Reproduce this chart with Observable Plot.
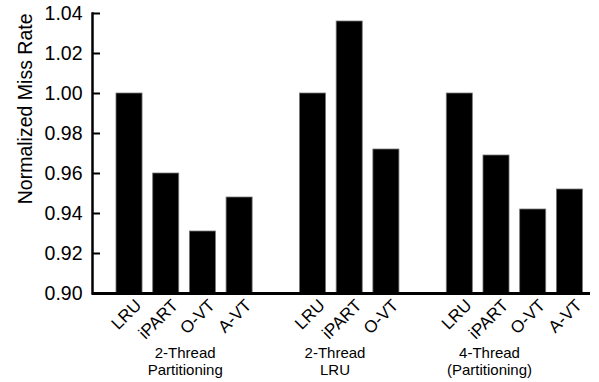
<!DOCTYPE html>
<html>
<head>
<meta charset="utf-8">
<script src="https://cdn.jsdelivr.net/npm/d3@7"></script>
<script src="https://cdn.jsdelivr.net/npm/@observablehq/plot@0.6"></script>
<style>
  html, body { margin: 0; padding: 0; background: #fff; }
  svg { display: block; }
</style>
</head>
<body>
<div id="chart"></div>
<script>
// ---- data ----
const groupNames = ["2-Thread\nPartitioning", "2-Thread\nLRU", "4-Thread\n(Partitioning)"];
const policiesG1 = ["LRU", "iPART", "O-VT", "A-VT"];
const valuesG1   = [1.000, 0.960, 0.931, 0.948];
const policiesG2 = ["LRU", "iPART", "O-VT"];
const valuesG2   = [1.000, 1.036, 0.972];
const policiesG3 = ["LRU", "iPART", "O-VT", "A-VT"];
const valuesG3   = [1.000, 0.969, 0.942, 0.952];
const yTicks = [0.90, 0.92, 0.94, 0.96, 0.98, 1.00, 1.02, 1.04];
const yLabel = "Normalized Miss Rate";

// ---- build slots (groups separated by one empty slot) ----
const groups = [
  {name: groupNames[0], policies: policiesG1, values: valuesG1},
  {name: groupNames[1], policies: policiesG2, values: valuesG2},
  {name: groupNames[2], policies: policiesG3, values: valuesG3}
];
const rows = [];
const domain = [];
const labelOf = new Map();
groups.forEach((g, gi) => {
  if (gi > 0) { const k = "gap" + gi; domain.push(k); labelOf.set(k, ""); }
  g.policies.forEach((p, i) => {
    const k = "g" + gi + "-" + p;
    domain.push(k); labelOf.set(k, p);
    rows.push({key: k, policy: p, value: g.values[i], group: g.name});
  });
});

const font = "'Liberation Sans', Arial, Helvetica, sans-serif";

// group label: anchored on a slot, shifted horizontally
function groupLabel(key, text, dx) {
  return Plot.text([{key, text}], {x: "key", y: () => yTicks[0], text: "text", dx, dy: 52,
    fontSize: 15, lineHeight: 1.15, lineAnchor: "top", fill: "#000"});
}

const chart = Plot.plot({
  width: 599,
  height: 382,
  marginLeft: 92,
  marginRight: 9,
  marginTop: 13,
  marginBottom: 89,
  style: {fontFamily: font, color: "#000", background: "#fff"},
  x: {type: "band", domain, paddingInner: 0.29, paddingOuter: 0.43, align: 0.76, round: false},
  y: {domain: [yTicks[0], yTicks[yTicks.length - 1]]},
  marks: [
    Plot.barY(rows, {x: "key", y1: yTicks[0], y2: "value", fill: "#000", stroke: "#777", strokeWidth: 0.8}),
    Plot.axisY({ticks: yTicks, tickFormat: ".2f", tickSize: -8, tickPadding: 18, strokeWidth: 2,
      fontSize: 19.5, label: null}),
    Plot.text([yLabel], {frameAnchor: "top-left", rotate: -90, textAnchor: "end", lineAnchor: "top",
      dx: -74, fontSize: 19.5, fill: "#000"}),
    Plot.axisX({tickSize: 0, tickRotate: -45, tickFormat: d => labelOf.get(d), fontSize: 17,
      tickPadding: 6, dx: 9, dy: 3, label: null}),
    Plot.frame({anchor: "left", strokeWidth: 2.5}),
    Plot.ruleY([yTicks[0]], {strokeWidth: 3}),
    groupLabel("g0-iPART", groupNames[0], 19),
    groupLabel("g1-LRU", groupNames[1], 22),
    groupLabel("g2-iPART", groupNames[2], -7)
  ]
});
document.getElementById("chart").appendChild(chart);
</script>
</body>
</html>
